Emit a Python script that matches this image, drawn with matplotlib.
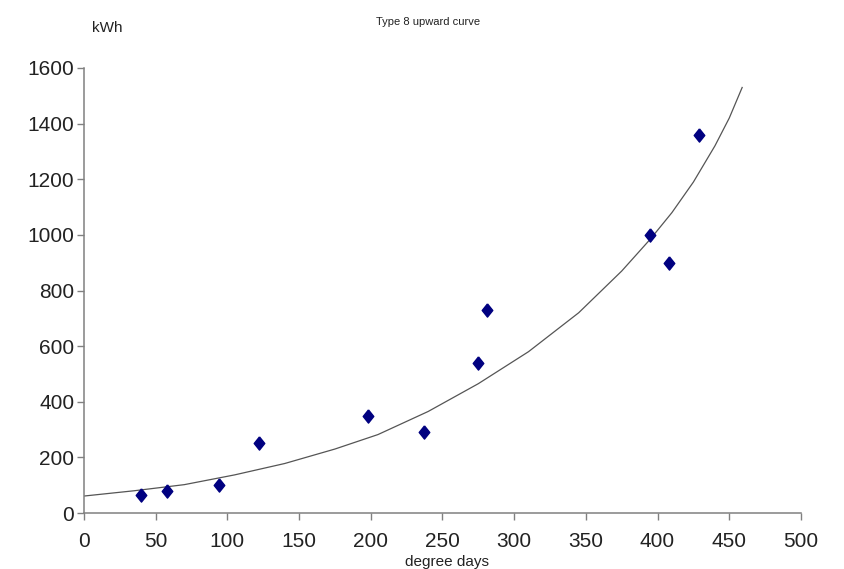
import numpy as np
import matplotlib
matplotlib.use('Agg')
import matplotlib.pyplot as plt

plt.rcParams['font.family'] = ['Liberation Sans', 'DejaVu Sans']

# measured points (degree days, kWh)
deg_days = [40, 58, 94, 122, 198, 237, 275, 281, 395, 408, 429]
kwh = [66, 78, 100, 250, 350, 290, 540, 730, 1000, 900, 1360]

# trend curve
curve_x = [0, 35, 70, 105, 140, 175, 205, 240, 275, 310, 345, 375, 395, 410, 425, 440, 450, 459]
curve_y = [61, 80, 102, 137, 178, 230, 282, 365, 465, 580, 720, 870, 985, 1080, 1190, 1320, 1420, 1530]

x_ticks = [0, 50, 100, 150, 200, 250, 300, 350, 400, 450, 500]
y_ticks = [0, 200, 400, 600, 800, 1000, 1200, 1400, 1600]

fig = plt.figure(figsize=(8.44, 5.69), dpi=100)
ax = fig.add_axes([0.0995, 0.0984, 0.8495, 0.7821])

ax.plot(curve_x, curve_y, color='#555555', lw=0.9, zorder=2)

diamond = [(0, 1), (0.8, 0), (0, -1), (-0.8, 0), (0, 1)]
ax.plot(deg_days, kwh, linestyle='none', marker=diamond, markersize=9.5,
        color='#000080', zorder=3)

ax.set_xlim(0, 500)
ax.set_ylim(0, 1600)
ax.set_xticks(x_ticks)
ax.set_yticks(y_ticks)

for s in ['top', 'right']:
    ax.spines[s].set_visible(False)
for s in ['left', 'bottom']:
    ax.spines[s].set_color('#808080')
    ax.spines[s].set_linewidth(1.1)

ax.tick_params(axis='both', direction='out', length=5, width=1.0, color='#808080',
               labelsize=15, labelcolor='#222222')
ax.tick_params(axis='x', pad=9)
ax.tick_params(axis='y', pad=2)

fig.text(0.127, 0.951, 'kWh', fontsize=11, color='#222222', ha='center', va='center')
fig.text(0.507, 0.962, 'Type 8 upward curve', fontsize=8, color='#222222', ha='center', va='center')
fig.text(0.530, 0.012, 'degree days', fontsize=11, color='#222222', ha='center', va='center')

fig.savefig('out.png', dpi=100)
